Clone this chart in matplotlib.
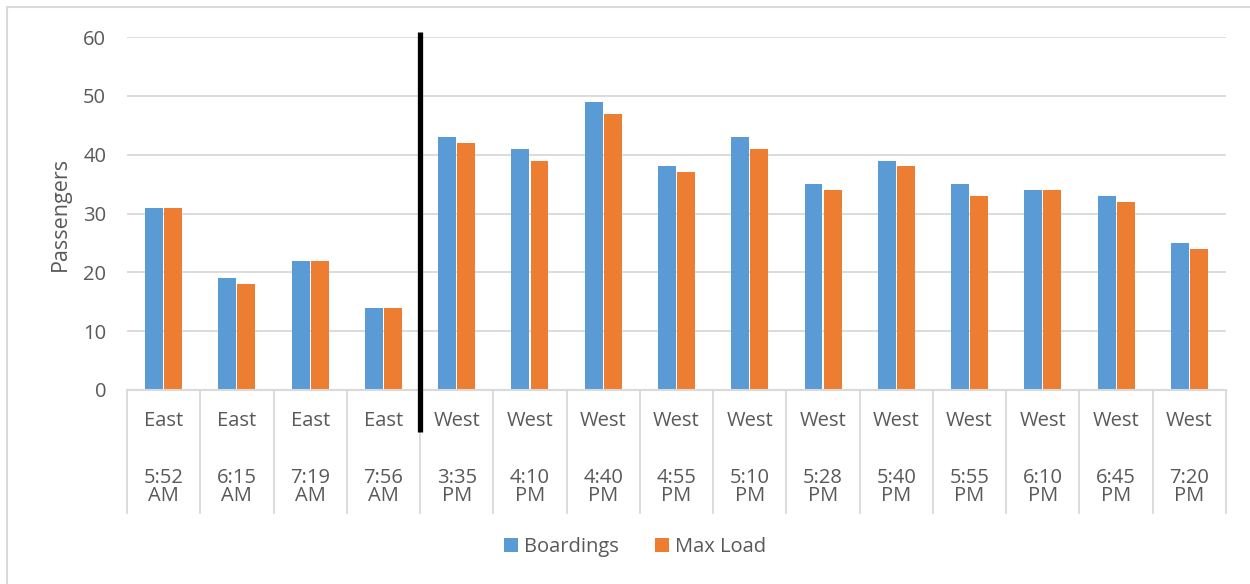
import numpy as np
import matplotlib.pyplot as plt
import matplotlib.transforms as mtransforms
from matplotlib.patches import Rectangle

directions = ["East"] * 4 + ["West"] * 11
times = ["5:52\nAM", "6:15\nAM", "7:19\nAM", "7:56\nAM",
         "3:35\nPM", "4:10\nPM", "4:40\nPM", "4:55\nPM", "5:10\nPM",
         "5:28\nPM", "5:40\nPM", "5:55\nPM", "6:10\nPM", "6:45\nPM",
         "7:20\nPM"]
boardings = [31, 19, 22, 14, 43, 41, 49, 38, 43, 35, 39, 35, 34, 33, 25]
max_load = [31, 18, 22, 14, 42, 39, 47, 37, 41, 34, 38, 33, 34, 32, 24]

BLUE = "#5B9BD5"
ORANGE = "#ED7D31"
TEXT = "#595959"
GRID = "#D9D9D9"

plt.rcParams["font.family"] = ["Open Sans", "DejaVu Sans"]

fig = plt.figure(figsize=(12.5, 5.84), dpi=100)
ax = fig.add_axes([0.1016, 0.3322, 0.8792, 0.6044])

x = np.arange(len(boardings))
w = 0.245
ax.bar(x - 0.13, boardings, w, color=BLUE, label="Boardings", zorder=2)
ax.bar(x + 0.13, max_load, w, color=ORANGE, label="Max Load", zorder=2)

ax.set_xlim(-0.5, len(x) - 0.5)
ax.set_ylim(0, 60)
ax.set_yticks(range(0, 61, 10))
ax.yaxis.grid(True, color=GRID, linewidth=1.3, zorder=0)
ax.set_axisbelow(True)
for s in ["top", "right", "left"]:
    ax.spines[s].set_visible(False)
ax.spines["bottom"].set_color(GRID)
ax.spines["bottom"].set_linewidth(1.5)
ax.tick_params(axis="y", length=0, pad=15, labelsize=14.5, labelcolor=TEXT)
ax.set_xticks([])
ax.set_ylabel("Passengers", fontsize=15.5, color=TEXT, labelpad=9)

# two-level category axis
trans = mtransforms.blended_transform_factory(ax.transData, ax.transAxes)
for i in range(len(x)):
    ax.text(i, -0.088, directions[i], transform=trans, ha="center",
            va="center", fontsize=14.5, color=TEXT)
    ax.text(i, -0.275, times[i], transform=trans, ha="center", va="center",
            fontsize=14.5, color=TEXT, linespacing=0.9)
for b in np.arange(-0.5, len(x), 1.0):
    ax.plot([b, b], [0, -0.348], transform=trans, color=GRID, linewidth=1.3,
            clip_on=False)

# divider between east and west trips
ax.plot([3.5, 3.5], [1.014, -0.119], transform=trans, color="black",
        linewidth=3.8, clip_on=False, solid_capstyle="butt", zorder=5)

fig.legend(loc="center", bbox_to_anchor=(0.508, 1 - 547 / 584), ncol=2,
           frameon=False, fontsize=14.5, labelcolor=TEXT, handlelength=0.7,
           handleheight=0.7, handletextpad=0.3, columnspacing=1.8)

fig.patches.append(Rectangle((7 / 1250, -0.1), 1.2, 1 - 7 / 584 + 0.1,
                             transform=fig.transFigure, fill=False,
                             edgecolor=GRID, linewidth=1.5))

fig.savefig("out.png", dpi=100)
